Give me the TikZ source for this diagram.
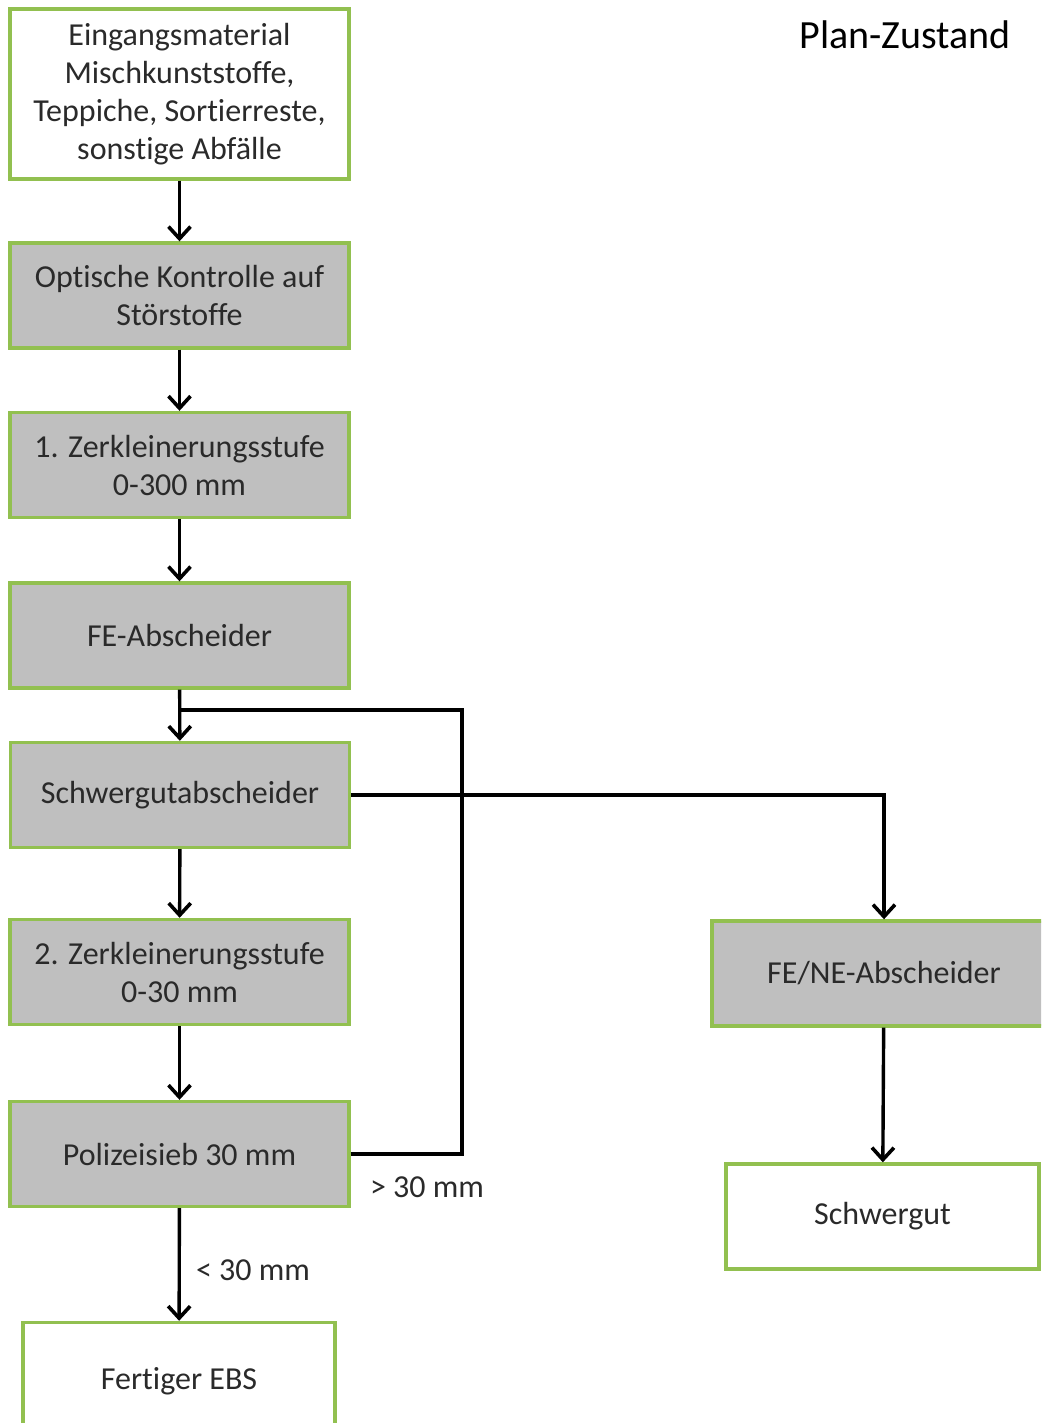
\documentclass[tikz,border=0pt]{standalone}
\usepackage{fontspec}
\setmainfont[Ligatures=NoCommon]{Carlito}
\usepackage{xcolor}
\usepackage{tikz}
\usetikzlibrary{arrows.meta}

\definecolor{boxgreen}{HTML}{92C050}
\definecolor{boxgray}{HTML}{BFBFBF}
\definecolor{txtgray}{HTML}{2A2A2A}

\begin{document}
\begin{tikzpicture}[x=0.5pt, y=-0.5pt,
  stage/.style={draw=boxgreen, line width=1.7pt, fill=boxgray, text=txtgray,
    minimum width=169.5pt, minimum height=52.5pt, inner sep=0pt, align=center,
    font=\fontsize{16}{19}\selectfont},
  endbox/.style={stage, fill=white},
  flow/.style={line width=1.7pt, -{Straight Barb[length=6pt, width=11pt, line width=1.8pt]}},
  line/.style={line width=1.7pt}]

\useasboundingbox (0,0) rectangle (1041,1423);
\clip (0,0) rectangle (1041,1423);

\node[font=\fontsize{20}{24}\selectfont] (title) at (905,35) {Plan-Zustand};

% main column
\node[endbox, minimum height=85pt] (input) at (179.5,94)
  {Eingangsmaterial\\Mischkunststoffe,\\Teppiche, Sortierreste,\\sonstige Abfälle};
\node[stage] (check) at (179.5,295.5) {Optische Kontrolle auf\\Störstoffe};
\node[stage] (z1)    at (179.5,465)   {1. Zerkleinerungsstufe\\0-300 mm};
\node[stage] (fe)    at (179.5,635.5) {FE-Abscheider};
\node[stage] (sg)    at (180,795)     {Schwergutabscheider};
\node[stage] (z2)    at (179.5,972)   {2. Zerkleinerungsstufe\\0-30 mm};
\node[stage] (sieb)  at (179.5,1154)  {Polizeisieb 30 mm};
\node[endbox, minimum width=156pt, minimum height=58.5pt] (ebs) at (179,1381) {Fertiger EBS};

% right column
\node[stage, minimum width=172pt] (fene) at (884,973.5) {FE/NE-Abscheider};
\node[endbox, minimum width=156.5pt] (sgut) at (882.5,1216.5) {Schwergut};

\draw[flow] (input) -- (check);
\draw[flow] (check) -- (z1);
\draw[flow] (z1) -- (fe);
\draw[flow] (fe) -- (sg);
\draw[flow] (sg) -- (z2);
\draw[flow] (z2) -- (sieb);
\draw[flow] (sieb) -- (ebs);

\coordinate (back) at (462,710);
\draw[line] (sieb.east) -| (back) -- (back -| fe.south);

\draw[flow] (sg.east) -| (fene.north);
\draw[flow] (fene) -- (sgut);

\node[text=txtgray, font=\fontsize{16}{19}\selectfont] (big) at (427,1187) {> 30 mm};
\node[text=txtgray, font=\fontsize{16}{19}\selectfont] (small) at (253,1270) {< 30 mm};

\end{tikzpicture}
\end{document}
